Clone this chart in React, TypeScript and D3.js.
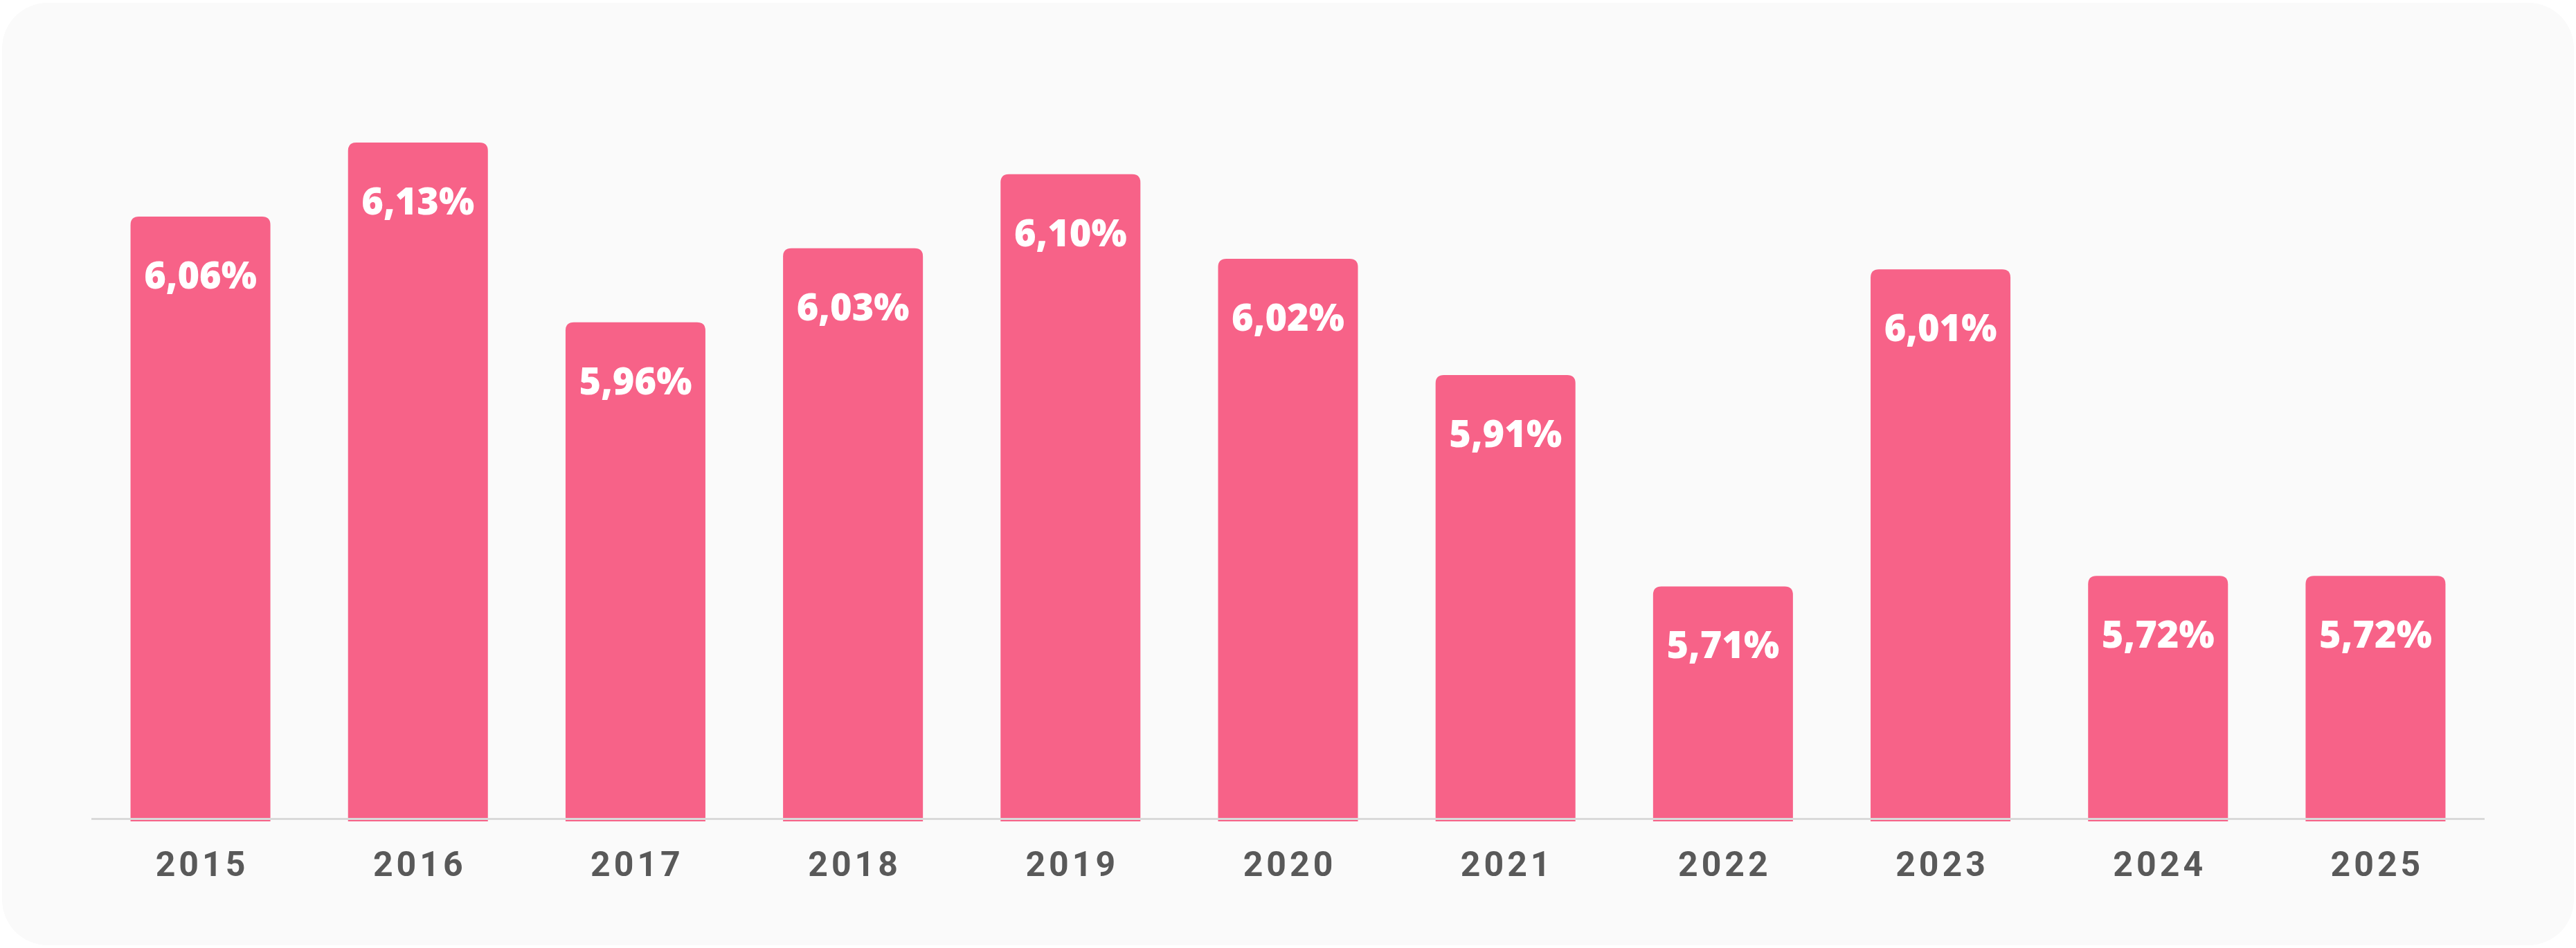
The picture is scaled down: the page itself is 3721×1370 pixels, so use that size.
import React from 'react';
import * as d3 from 'd3';

const years = ['2015', '2016', '2017', '2018', '2019', '2020', '2021', '2022', '2023', '2024', '2025'];
const rates = [6.06, 6.13, 5.96, 6.03, 6.10, 6.02, 5.91, 5.71, 6.01, 5.72, 5.72];
const rateLabels = ['6,06%', '6,13%', '5,96%', '6,03%', '6,10%', '6,02%', '5,91%', '5,71%', '6,01%', '5,72%', '5,72%'];

const WIDTH = 3721;
const HEIGHT = 1370;

const BAR_COLOR = '#f76288';
const AXIS_COLOR = '#d9d9d9';
const YEAR_COLOR = '#595959';

// top-rounded bar path
function barPath(x: number, y: number, w: number, h: number, r: number) {
  return `M${x},${y + h}V${y + r}Q${x},${y} ${x + r},${y}H${x + w - r}Q${x + w},${y} ${x + w},${y + r}V${y + h}Z`;
}

export default function App() {
  const axisY = 1183.5;

  const x = d3.scaleBand<string>()
    .domain(years)
    .range([132, 3589])
    .paddingInner(0.357)
    .paddingOuter(0.18);

  const y = d3.scaleLinear()
    .domain([5.49, 6.13])
    .range([axisY, 206]);

  const bw = x.bandwidth();

  return (
    <div style={{ position: 'absolute', left: 0, top: 0 }}>
      <svg width={WIDTH} height={HEIGHT} style={{ display: 'block', background: '#ffffff' }}>
        <rect x={3} y={4} width={3715} height={1362} rx={66} ry={66} fill="#fafafa" />

        {years.map((yr, i) => {
          const bx = x(yr) as number;
          const top = y(rates[i]);
          return (
            <path key={yr} d={barPath(bx, top, bw, axisY + 3.5 - top, 12)} fill={BAR_COLOR} />
          );
        })}

        <line x1={132} x2={3589} y1={axisY} y2={axisY} stroke={AXIS_COLOR} strokeWidth={3} />

        {years.map((yr, i) => {
          const cx = (x(yr) as number) + bw / 2;
          return (
            <text
              key={'v' + yr}
              x={cx}
              y={y(rates[i]) + 104}
              textAnchor="middle"
              fill="#ffffff"
              fontFamily="'Open Sans', Roboto, sans-serif"
              fontWeight={800}
              fontSize={54}
            >
              {rateLabels[i]}
            </text>
          );
        })}

        {years.map((yr) => {
          const cx = (x(yr) as number) + bw / 2;
          return (
            <text
              key={'y' + yr}
              x={cx + 2.5}
              y={1266}
              textAnchor="middle"
              fill={YEAR_COLOR}
              fontFamily="Roboto, 'Open Sans', sans-serif"
              fontWeight={700}
              fontSize={50}
              letterSpacing={5}
            >
              {yr}
            </text>
          );
        })}
      </svg>
    </div>
  );
}
